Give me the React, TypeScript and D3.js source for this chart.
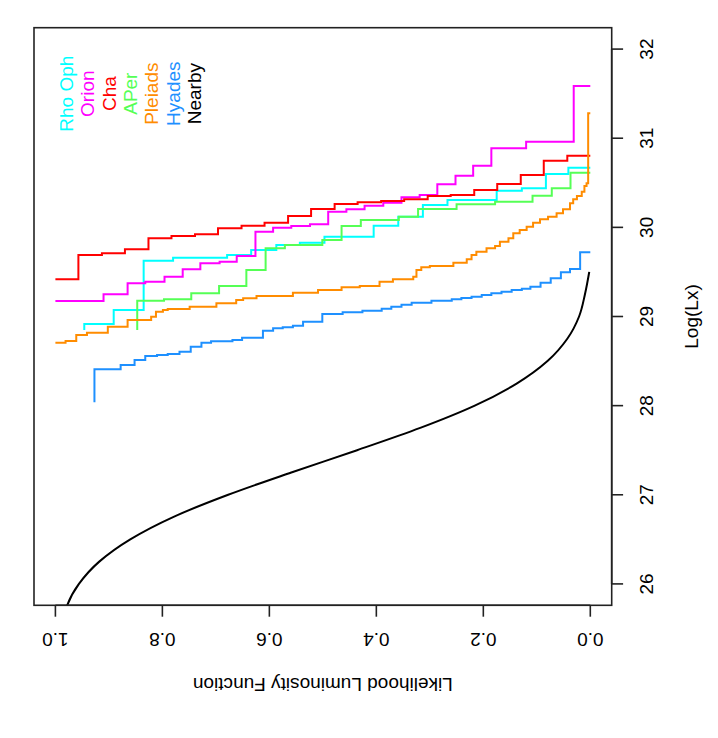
import React from "react";
import * as d3 from "d3";

// ---- data (original orientation: x = Log(Lx), y = likelihood luminosity function) ----
const LX_TICKS = [26, 27, 28, 29, 30, 31, 32];
const F_TICKS = [0, 0.2, 0.4, 0.6, 0.8, 1.0];
const F_TICK_LABELS = ["0.0", "0.2", "0.4", "0.6", "0.8", "1.0"];

const rhoOphLx = [28.849, 28.916, 29.073, 29.626, 29.66, 29.69, 29.746, 29.802, 29.828, 29.896, 30.019, 30.12, 30.251, 30.307, 30.412, 30.439, 30.599, 30.67];
const rhoOphF = [0.946, 0.891, 0.835, 0.78, 0.679, 0.634, 0.587, 0.543, 0.497, 0.405, 0.359, 0.313, 0.267, 0.175, 0.128, 0.083, 0.041, 0];

const orionLx = [29.174, 29.174, 29.249, 29.373, 29.391, 29.447, 29.53, 29.597, 29.615, 29.679, 29.952, 29.997, 30.016, 30.035, 30.176, 30.203, 30.243, 30.277, 30.338, 30.363, 30.483, 30.58, 30.692, 30.887, 30.961, 31.586];
const orionF = [1.0, 0.91, 0.865, 0.832, 0.796, 0.762, 0.729, 0.693, 0.661, 0.626, 0.593, 0.559, 0.524, 0.49, 0.456, 0.422, 0.387, 0.353, 0.319, 0.286, 0.252, 0.219, 0.185, 0.12, 0.031, 0];

const chaLx = [29.418, 29.418, 29.69, 29.709, 29.754, 29.878, 29.903, 29.922, 29.99, 30.019, 30.053, 30.128, 30.206, 30.262, 30.281, 30.296, 30.315, 30.352, 30.363, 30.42, 30.487, 30.588, 30.748, 30.804];
const chaF = [1.0, 0.957, 0.913, 0.87, 0.826, 0.783, 0.739, 0.696, 0.652, 0.609, 0.565, 0.522, 0.478, 0.435, 0.391, 0.348, 0.304, 0.261, 0.217, 0.174, 0.13, 0.087, 0.043, 0];

const aperLx = [28.849, 29.178, 29.193, 29.261, 29.342, 29.522, 29.765, 29.802, 29.859, 30.016, 30.083, 30.12, 30.206, 30.259, 30.288, 30.356, 30.439, 30.614];
const aperF = [0.847, 0.797, 0.746, 0.694, 0.643, 0.607, 0.571, 0.501, 0.465, 0.429, 0.358, 0.322, 0.25, 0.178, 0.108, 0.072, 0.037, 0];

const pleiadsLx = [28.706, 28.706, 28.725, 28.793, 28.818, 28.886, 28.961, 28.998, 29.054, 29.073, 29.084, 29.11, 29.148, 29.185, 29.204, 29.23, 29.267, 29.298, 29.328, 29.342, 29.391, 29.418, 29.447, 29.522, 29.552, 29.567, 29.604, 29.642, 29.69, 29.727, 29.765, 29.791, 29.839, 29.878, 29.934, 29.971, 30.008, 30.053, 30.091, 30.12, 30.158, 30.203, 30.27, 30.315, 30.352, 30.4, 30.464, 30.495, 31.28];
const pleiadsF = [1.0, 0.981, 0.961, 0.941, 0.902, 0.865, 0.821, 0.812, 0.799, 0.79, 0.749, 0.699, 0.662, 0.649, 0.624, 0.556, 0.509, 0.465, 0.431, 0.394, 0.369, 0.331, 0.325, 0.316, 0.3, 0.256, 0.231, 0.222, 0.213, 0.194, 0.178, 0.169, 0.153, 0.144, 0.132, 0.119, 0.107, 0.094, 0.079, 0.063, 0.051, 0.038, 0.032, 0.025, 0.016, 0.011, 0.007, 0.004, 0];

const hyadesLx = [28.038, 28.408, 28.456, 28.512, 28.557, 28.568, 28.58, 28.605, 28.661, 28.706, 28.722, 28.737, 28.762, 28.841, 28.868, 28.879, 28.897, 28.942, 29.028, 29.047, 29.065, 29.088, 29.11, 29.133, 29.155, 29.178, 29.193, 29.208, 29.222, 29.241, 29.26, 29.278, 29.298, 29.312, 29.335, 29.379, 29.429, 29.496, 29.533, 29.721];
const hyadesF = [0.927, 0.878, 0.852, 0.832, 0.81, 0.79, 0.768, 0.747, 0.727, 0.709, 0.669, 0.651, 0.612, 0.593, 0.575, 0.556, 0.537, 0.501, 0.463, 0.426, 0.39, 0.372, 0.353, 0.334, 0.297, 0.259, 0.241, 0.222, 0.203, 0.185, 0.166, 0.147, 0.128, 0.112, 0.093, 0.074, 0.055, 0.038, 0.019, 0];

const nearbyLx = [25.6, 25.76, 26.0, 26.25, 26.5, 26.75, 27.0, 27.25, 27.5, 27.75, 28.0, 28.25, 28.5, 28.75, 29.0, 29.25, 29.5];
const nearbyF = [0.985, 0.978, 0.956, 0.918, 0.86, 0.78, 0.677, 0.559, 0.436, 0.318, 0.216, 0.137, 0.08, 0.043, 0.021, 0.01, 0.002];

const SERIES_NAMES = ["Rho Oph", "Orion", "Cha", "APer", "Pleiads", "Hyades", "Nearby"];
const SERIES_COLORS = ["#00FFFF", "#FF00FF", "#FF0000", "#55FF55", "#FF8C00", "#1E90FF", "#000000"];
const LEGEND_X = 31.5;
const LEGEND_Y = [0.98, 0.94, 0.9, 0.86, 0.82, 0.78, 0.74];

// ---- layout (drawn in the un-rotated frame, then rotated -90deg) ----
const W = 718;
const H = 738;
const FONT = "'Liberation Sans', Arial, Helvetica, sans-serif";
const FS = 19;
const LINE = 22.8;
const BOX = { x0: 132.7, x1: 710.3, y0: 34, y1: 611.7 };

export default function App() {
  const x = d3.scaleLinear().domain([25.76, 32.24]).range([BOX.x0, BOX.x1]);
  const y = d3.scaleLinear().domain([-0.04, 1.04]).range([BOX.y1, BOX.y0]);

  const step = d3
    .line<[number, number]>()
    .x((d) => x(d[0]))
    .y((d) => y(d[1]))
    .curve(d3.curveStepAfter);
  const smooth = d3
    .line<[number, number]>()
    .x((d) => x(d[0]))
    .y((d) => y(d[1]))
    .curve(d3.curveMonotoneX);

  const zip = (a: number[], b: number[]) => a.map((v, i) => [v, b[i]] as [number, number]);

  const stepSeries = [
    { lx: rhoOphLx, f: rhoOphF, c: SERIES_COLORS[0] },
    { lx: orionLx, f: orionF, c: SERIES_COLORS[1] },
    { lx: chaLx, f: chaF, c: SERIES_COLORS[2] },
    { lx: aperLx, f: aperF, c: SERIES_COLORS[3] },
    { lx: pleiadsLx, f: pleiadsF, c: SERIES_COLORS[4] },
    { lx: hyadesLx, f: hyadesF, c: SERIES_COLORS[5] },
  ];

  const tick = LINE * 0.5;
  const axisCol = "#222";

  return (
    <svg
      width={W}
      height={H}
      style={{ position: "absolute", left: 0, top: 0, background: "#fff" }}
      fontFamily={FONT}
      fontSize={FS}
    >
      <rect x={0} y={0} width={W} height={H} fill="#fff" />
      <g transform={`translate(0,${H}) rotate(-90)`}>
        <defs>
          <clipPath id="plotClip">
            <rect x={BOX.x0} y={BOX.y0} width={BOX.x1 - BOX.x0} height={BOX.y1 - BOX.y0} />
          </clipPath>
        </defs>

        <g clipPath="url(#plotClip)" fill="none" strokeWidth={2}>
          {stepSeries.map((s, i) => (
            <path key={i} d={step(zip(s.lx, s.f)) || ""} stroke={s.c} />
          ))}
          <path d={smooth(zip(nearbyLx, nearbyF)) || ""} stroke={SERIES_COLORS[6]} />
        </g>

        {/* box */}
        <rect
          x={BOX.x0}
          y={BOX.y0}
          width={BOX.x1 - BOX.x0}
          height={BOX.y1 - BOX.y0}
          fill="none"
          stroke={axisCol}
          strokeWidth={1.6}
        />

        {/* Log(Lx) axis (bottom in original frame) */}
        <line x1={x(LX_TICKS[0])} x2={x(LX_TICKS[LX_TICKS.length - 1])} y1={BOX.y1} y2={BOX.y1} stroke={axisCol} strokeWidth={1.6} />
        {LX_TICKS.map((t) => (
          <g key={t}>
            <line x1={x(t)} x2={x(t)} y1={BOX.y1} y2={BOX.y1 + tick} stroke={axisCol} strokeWidth={1.6} />
            <text x={x(t)} y={BOX.y1 + LINE * 1.8} textAnchor="middle" fill="#000">
              {t}
            </text>
          </g>
        ))}
        <text x={(BOX.x0 + BOX.x1) / 2} y={BOX.y1 + LINE * 3.8} textAnchor="middle" fill="#000">
          Log(Lx)
        </text>

        {/* likelihood axis (left in original frame) */}
        <line x1={BOX.x0} x2={BOX.x0} y1={y(F_TICKS[0])} y2={y(F_TICKS[F_TICKS.length - 1])} stroke={axisCol} strokeWidth={1.6} />
        {F_TICKS.map((t, i) => (
          <g key={t}>
            <line x1={BOX.x0} x2={BOX.x0 - tick} y1={y(t)} y2={y(t)} stroke={axisCol} strokeWidth={1.6} />
            <text
              transform={`translate(${BOX.x0 - LINE * 1.2},${y(t)}) rotate(-90)`}
              textAnchor="middle"
              fill="#000"
            >
              {F_TICK_LABELS[i]}
            </text>
          </g>
        ))}
        <text
          transform={`translate(${BOX.x0 - LINE * 3.2},${(BOX.y0 + BOX.y1) / 2}) rotate(-90)`}
          textAnchor="middle"
          fill="#000"
        >
          Likelihood Luminosity Function
        </text>

        {/* legend text */}
        {SERIES_NAMES.map((n, i) => (
          <text key={n} x={x(LEGEND_X)} y={y(LEGEND_Y[i]) + 6.8} textAnchor="middle" fill={SERIES_COLORS[i]}>
            {n}
          </text>
        ))}
      </g>
    </svg>
  );
}
